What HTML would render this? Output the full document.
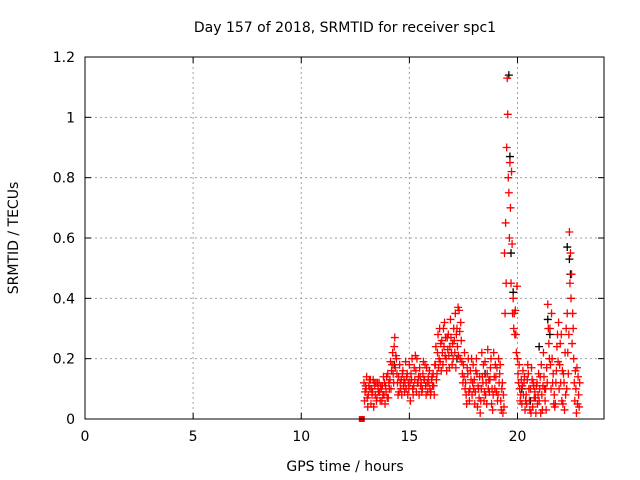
<!DOCTYPE html>
<html><head><meta charset="utf-8"><style>
html,body{margin:0;padding:0;background:#fff}
svg{display:block;font-family:"DejaVu Sans","Liberation Sans",sans-serif}
</style></head><body>
<svg id="chart" width="640" height="480" viewBox="0 0 640 480">
<rect width="640" height="480" fill="#fff"/>
<g id="grid"></g><g id="marks"></g><g id="axes"></g>
<text x="345" y="32" text-anchor="middle" font-size="14">Day 157 of 2018, SRMTID for receiver spc1</text>
<text x="345" y="471" text-anchor="middle" font-size="14">GPS time / hours</text>
<text transform="translate(18,238) rotate(-90)" text-anchor="middle" font-size="14">SRMTID / TECUs</text>
</svg>
<script>
const xTicks=[0,5,10,15,20];
const yTicks=[0,0.2,0.4,0.6,0.8,1,1.2];
const yTickLabels=["0","0.2","0.4","0.6","0.8","1","1.2"];
const times=[12.9,13.0,13.1,13.2,13.3,13.4,13.5,13.6,13.7,13.8,13.9,14.0,14.1,14.2,14.3,14.4,14.5,14.6,14.7,14.8,14.9,15.0,15.1,15.2,15.3,15.4,15.5,15.6,15.7,15.8,15.9,16.0,16.1,16.2,16.3,16.4,16.5,16.6,16.7,16.8,16.9,17.0,17.1,17.2,17.3,17.4,17.5,17.6,17.7,17.8,17.9,18.0,18.1,18.2,18.3,18.4,18.5,18.6,18.7,18.8,18.9,19.0,19.1,19.2,19.3,19.4,19.5,19.6,19.7,19.8,19.9,20.0,20.1,20.2,20.3,20.4,20.5,20.6,20.7,20.8,20.9,21.0,21.1,21.2,21.3,21.4,21.5,21.6,21.7,21.8,21.9,22.0,22.1,22.2,22.3,22.4,22.5,22.6,22.7,22.8];
const redA=[.12,.10,.08,.13,.09,.11,.07,.12,.10,.14,.11,.15,.13,.18,.24,.20,.14,.10,.16,.12,.15,.18,.13,.11,.16,.12,.14,.10,.13,.17,.12,.09,.15,.18,.22,.30,.26,.24,.20,.28,.33,.25,.22,.30,.36,.26,.18,.12,.15,.10,.08,.13,.20,.10,.06,.12,.19,.15,.09,.05,.22,.14,.08,.18,.12,.55,.90,.75,.45,.40,.36,.20,.10,.05,.12,.08,.15,.10,.04,.09,.12,.06,.18,.22,.10,.38,.30,.20,.08,.16,.32,.12,.05,.22,.35,.62,.48,.20,.10,.14];
const redB=[.06,.14,.11,.05,.13,.08,.12,.09,.06,.08,.09,.07,.19,.22,.27,.15,.09,.13,.11,.19,.08,.12,.20,.17,.09,.14,.11,.15,.18,.12,.16,.13,.11,.24,.28,.19,.22,.32,.16,.21,.27,.20,.35,.24,.29,.19,.14,.08,.20,.16,.12,.05,.15,.07,.10,.18,.08,.23,.13,.10,.14,.09,.20,.06,.02,.35,1.13,.60,.82,.30,.28,.15,.06,.11,.14,.05,.10,.02,.12,.07,.05,.10,.08,.14,.03,.30,.18,.12,.04,.24,.10,.28,.15,.08,.22,.45,.25,.12,.02,.08];
const redC=[.09,.07,.13,.10,.04,.12,.10,.06,.11,.12,.14,.12,.10,.15,.17,.12,.18,.08,.13,.10,.12,.06,.10,.13,.20,.08,.12,.19,.11,.09,.10,.14,.08,.13,.17,.25,.18,.21,.27,.17,.22,.30,.17,.37,.20,.15,.22,.05,.09,.13,.18,.09,.04,.14,.22,.06,.12,.10,.17,.03,.10,.17,.12,.03,.08,.65,1.01,.85,.58,.35,.22,.12,.08,.16,.03,.13,.06,.17,.11,.02,.08,.14,.03,.10,.17,.25,.10,.15,.05,.28,.18,.06,.12,.30,.15,.55,.35,.06,.17,.04];
const redD=[.11,.04,.10,.08,.12,.06,.09,.11,.08,.05,.07,.10,.16,.12,.21,.08,.12,.15,.09,.14,.10,.15,.08,.21,.12,.17,.09,.13,.08,.14,.08,.11,.18,.15,.20,.16,.30,.27,.23,.24,.18,.26,.28,.21,.32,.12,.10,.17,.06,.20,.10,.16,.11,.02,.14,.09,.05,.13,.20,.08,.18,.06,.15,.10,.04,.45,.80,.70,.35,.28,.44,.18,.13,.08,.06,.18,.03,.13,.07,.11,.15,.02,.11,.06,.12,.20,.35,.05,.12,.19,.25,.16,.03,.10,.28,.40,.30,.16,.05,.12];
const blackT=[19.6,19.65,19.7,19.8,20.2,21.4,21.5,22.3,22.4,22.45,18.5,17.2,14.3,20.6,21.0];
const blackV=[1.14,.87,.55,.42,.10,.33,.28,.57,.53,.48,.15,.20,.18,.06,.24];
const NS="http://www.w3.org/2000/svg";
const L=85,R=604,T=57,B=419;
const xs=t=>L+(t/24)*(R-L);
const ys=v=>B-(v/1.2)*(B-T);
function mk(tag,attrs,parent){const e=document.createElementNS(NS,tag);for(const k in attrs)e.setAttribute(k,attrs[k]);parent.appendChild(e);return e;}
const grid=document.getElementById('grid'),axes=document.getElementById('axes'),marks=document.getElementById('marks');
xTicks.forEach(t=>{const x=xs(t);
 if(t>0){const g=mk('line',{x1:x,x2:x,y1:T,y2:B,stroke:'#a0a0a0','stroke-dasharray':'2,3'},grid);}
 mk('line',{x1:x,x2:x,y1:B,y2:B-6,stroke:'#000'},axes);mk('line',{x1:x,x2:x,y1:T,y2:T+6,stroke:'#000'},axes);
 const l=mk('text',{x:x,y:B+22,'text-anchor':'middle','font-size':'14'},axes);l.textContent=t;
 
 });
yTicks.forEach((v,i)=>{const y=ys(v);
 if(v>0&&v<1.2){const g=mk('line',{x1:L,x2:R,y1:y,y2:y,stroke:'#a0a0a0','stroke-dasharray':'2,3'},grid);}
 mk('line',{x1:L,x2:L+6,y1:y,y2:y,stroke:'#000'},axes);mk('line',{x1:R,x2:R-6,y1:y,y2:y,stroke:'#000'},axes);
 const l=mk('text',{x:L-10,y:y+5,'text-anchor':'end','font-size':'14'},axes);l.textContent=yTickLabels[i];
 
 });
const fr=mk('rect',{x:L,y:T,width:R-L,height:B-T,fill:'none',stroke:'#000'},axes);


function plus(t,v,col,name){const x=xs(t),y=ys(v);
 const p=mk('path',{d:`M${x-4} ${y}H${x+4}M${x} ${y-4}V${y+4}`,stroke:col,'stroke-width':'1.3',fill:'none'},marks);
 
 }
blackT.forEach((t,i)=>plus(t,blackV[i],'#000','black-point'));
const offs=[0,0.025,0.05,0.075];
[redA,redB,redC,redD].forEach((s,k)=>times.forEach((t,i)=>plus(t+offs[k],s[i],'#ff0000','red-point')));
const sq=mk('rect',{x:xs(12.8)-3,y:ys(0)-3,width:6,height:6,fill:'#ff0000'},marks);


</script>
</body></html>
